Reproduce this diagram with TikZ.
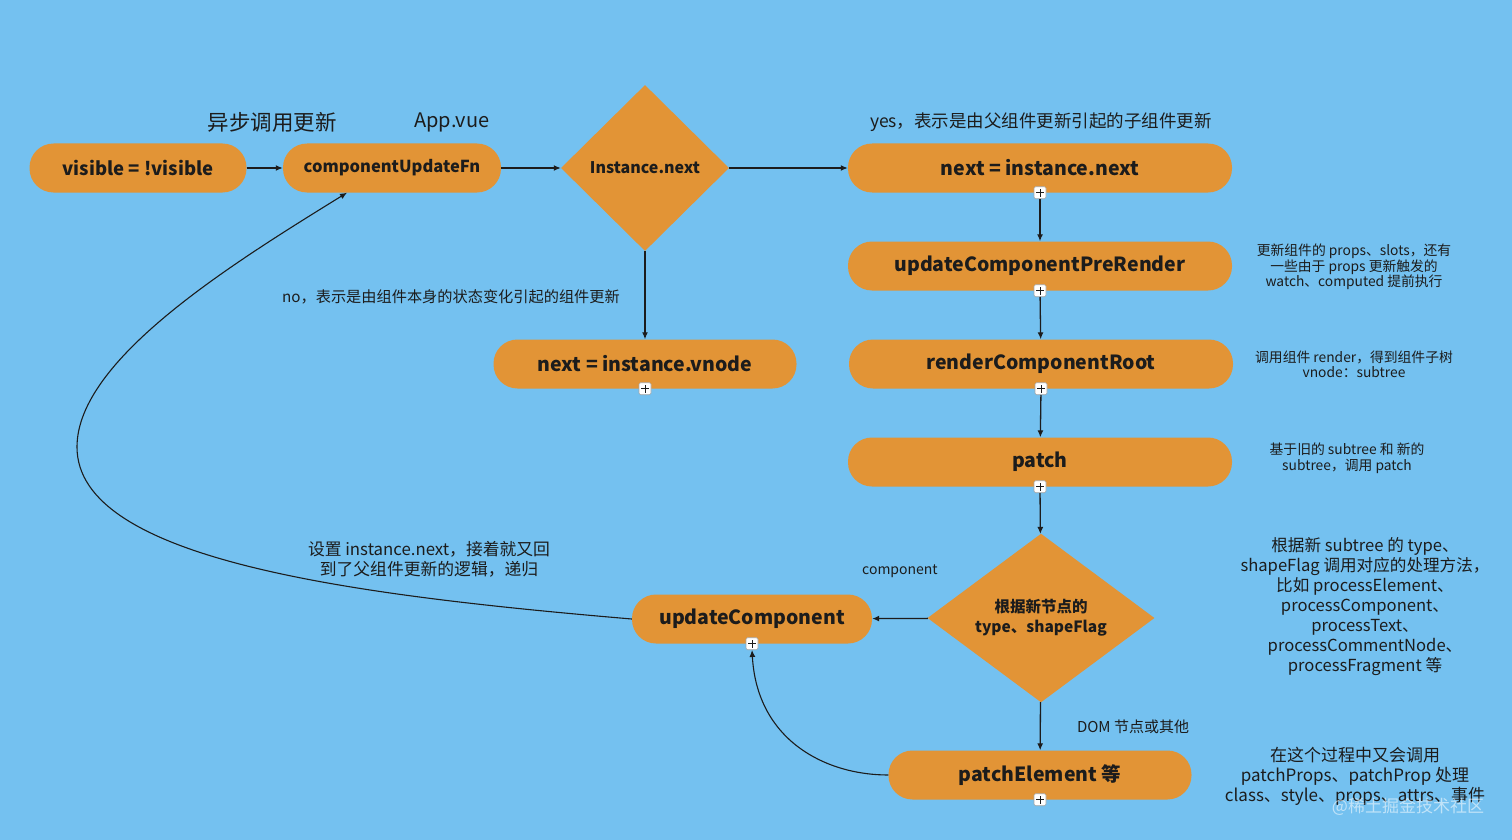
\documentclass[tikz,border=0pt]{standalone}
\usepackage{fontspec}
\setmainfont{Noto Sans CJK SC}
\usetikzlibrary{shapes.geometric,arrows.meta}

\definecolor{skyblue}{RGB}{116,193,240}
\definecolor{flowgold}{RGB}{226,148,54}
\definecolor{inkdark}{RGB}{28,28,28}

\begin{document}
\begin{tikzpicture}[x=1pt, y=-1pt,
    pill/.style={rectangle, rounded corners=24pt, fill=flowgold, minimum height=49pt,
      inner sep=0pt, text=inkdark, font=\bfseries\fontsize{19.5}{22}\selectfont},
    gate/.style={diamond, fill=flowgold, inner sep=0pt, text=inkdark, align=center,
      font=\bfseries\fontsize{15.5}{20}\selectfont},
    plusbox/.style={draw=gray!70, fill=white, rounded corners=1.5pt, minimum size=12pt,
      inner sep=0pt, line width=0.6pt,
      path picture={\draw[inkdark, line width=0.8pt]
        ([xshift=-3.8pt]path picture bounding box.center) -- ([xshift=3.8pt]path picture bounding box.center)
        ([yshift=-3.8pt]path picture bounding box.center) -- ([yshift=3.8pt]path picture bounding box.center);}},
    flow/.style={draw=inkdark, line width=1.3pt, -{Latex[length=7pt, width=6pt]}},
    note/.style={text=inkdark, align=center, inner sep=0pt}]
  % the sheet
  \fill[skyblue] (0,0) rectangle (1512,840);
  \useasboundingbox (0,0) rectangle (1512,840);

  % the top row
  \node[pill, minimum width=217pt, font=\bfseries\fontsize{18.5}{22}\selectfont] (visible) at (138,168) {visible = !visible};
  \node[pill, minimum width=218pt, font=\bfseries\fontsize{16.5}{20}\selectfont] (updateFn) at (392,168) {componentUpdateFn};
  \node[gate, minimum width=168pt, minimum height=166pt, font=\bfseries\fontsize{16}{20}\selectfont] (isNext) at (645,168) {Instance.next};
  \node[pill, minimum width=384pt] (nextNode) at (1040,168) {next = instance.next};

  % the parent-update column
  \node[pill, minimum width=384pt] (preRender) at (1040,266) {updateComponentPreRender};
  \node[pill, minimum width=384pt] (renderRoot) at (1041,364) {renderComponentRoot};
  \node[pill, minimum width=384pt] (patch) at (1040,462) {patch};
  \node[gate, minimum width=227pt, minimum height=166pt] (typeCheck) at (1041,618) {根据新节点的\\type、shapeFlag};
  \node[pill, minimum width=303pt] (patchEl) at (1040,775) {patchElement 等};

  % the own-update branch and the recursion
  \node[pill, minimum width=303pt] (vnodeNode) at (645,364) {next = instance.vnode};
  \node[pill, minimum width=240pt] (updateComp) at (752,619) {updateComponent};

  % the expand marks
  \node[plusbox] (pNext) at (nextNode.south) {};
  \node[plusbox] (pPre) at (preRender.south) {};
  \node[plusbox] (pRender) at (renderRoot.south) {};
  \node[plusbox] (pPatch) at (patch.south) {};
  \node[plusbox] (pEl) at (patchEl.south) {};
  \node[plusbox] (pVnode) at (vnodeNode.south) {};
  \node[plusbox] (pUpdate) at (updateComp.south) {};

  % the connectors
  \draw[flow] (visible) -- (updateFn);
  \draw[flow] (updateFn) -- (isNext);
  \draw[flow] (isNext) -- (nextNode);
  \draw[flow] (isNext) -- (vnodeNode);
  \draw[flow] (pNext) -- (preRender);
  \draw[flow] (pPre) -- (renderRoot);
  \draw[flow] (pRender) -- (patch);
  \draw[flow] (pPatch) -- (typeCheck);
  \draw[flow] (typeCheck) -- (updateComp);
  \draw[flow] (typeCheck) -- (patchEl);
  \draw[flow, line width=1.1pt] (patchEl.west) .. controls (825,775) and (757,740) .. (pUpdate.south);
  \draw[flow, line width=1.1pt] (updateComp.west) .. controls (350,595) and (77,560) .. (77,447)
    .. controls (77,360) and (230,265) .. ([xshift=-45pt]updateFn.south);

  % the labels
  \node[note, font=\fontsize{21.5}{24}\selectfont] (asyncLbl) at (272,122.5) {异步调用更新};
  \node[note, font=\fontsize{20}{24}\selectfont] (appLbl) at (452,122.5) {App.vue};
  \node[note, font=\fontsize{17.5}{20}\selectfont] (yesLbl) at (1041,122.5) {yes，表示是由父组件更新引起的子组件更新};
  \node[note, font=\fontsize{15.2}{18}\selectfont] (noLbl) at (451,296.5) {no，表示是由组件本身的状态变化引起的组件更新};
  \node[note, font=\fontsize{14}{18}\selectfont] (compLbl) at (900,571.5) {component};
  \node[note, font=\fontsize{15}{18}\selectfont] (domLbl) at (1133,726.5) {DOM 节点或其他};
  \node[note, font=\fontsize{16.8}{20}\selectfont] (backLbl) at (429,559.5) {设置 instance.next，接着就又回\\到了父组件更新的逻辑，递归};

  % the notes on the right
  \node[note, font=\fontsize{13.8}{15.5}\selectfont] (preNote) at (1354,267) {更新组件的 props、slots，还有\\一些由于 props 更新触发的\\watch、computed 提前执行};
  \node[note, font=\fontsize{13.8}{15.5}\selectfont] (renderNote) at (1354,364.5) {调用组件 render，得到组件子树\\vnode：subtree};
  \node[note, font=\fontsize{13.8}{15.5}\selectfont] (patchNote) at (1347,458.5) {基于旧的 subtree 和 新的\\subtree，调用 patch};
  \node[note, font=\fontsize{16.6}{20}\selectfont] (typeNote) at (1365,606.5) {根据新 subtree 的 type、\\shapeFlag 调用对应的处理方法，\\比如 processElement、\\processComponent、\\processText、\\processCommentNode、\\processFragment 等};
  \node[note, font=\fontsize{17}{20}\selectfont] (elNote) at (1355,776.5) {在这个过程中又会调用\\patchProps、patchProp 处理\\class、style、props、attrs、事件};
  \node[note, text=white, opacity=0.55, font=\fontsize{17}{20}\selectfont] (mark) at (1408,807) {@稀土掘金技术社区};
\end{tikzpicture}
\end{document}
